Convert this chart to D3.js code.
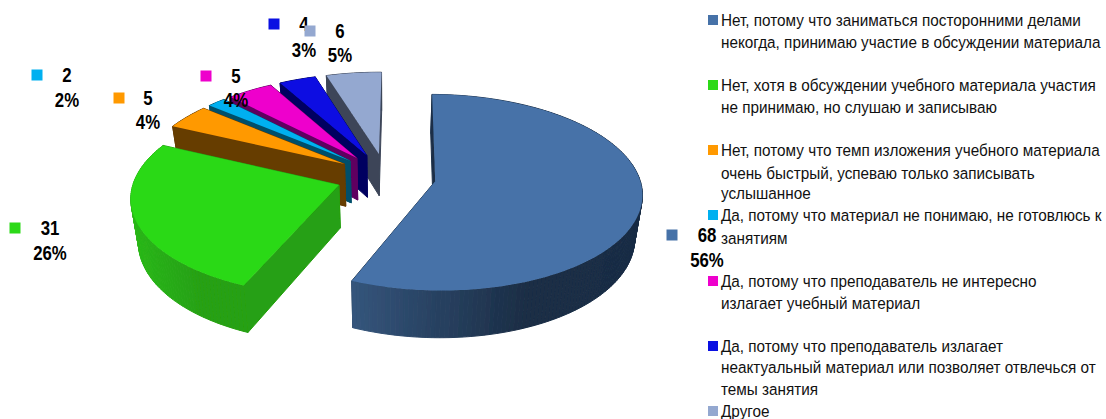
<!DOCTYPE html>
<html><head><meta charset="utf-8">
<script src="https://cdn.jsdelivr.net/npm/d3@7"></script>
<style>html,body{margin:0;padding:0;background:#fff;overflow:hidden}svg{display:block}</style>
</head><body><svg id="c" width="1106" height="419"></svg>
<script>
const categories = [
 ["Нет, потому что заниматься посторонними делами","некогда, принимаю участие в обсуждении материала"],
 ["Нет, хотя в обсуждении учебного материала участия","не принимаю, но слушаю и записываю"],
 ["Нет, потому что темп изложения учебного материала","очень быстрый, успеваю только записывать","услышанное"],
 ["Да, потому что материал не понимаю, не готовлюсь к","занятиям"],
 ["Да, потому что преподаватель не интересно","излагает учебный материал"],
 ["Да, потому что преподаватель излагает","неактуальный материал или позволяет отвлечься от","темы занятия"],
 ["Другое"]
];
const values = [68,31,5,2,5,4,6];
const colors = ["#4672a8","#2cd918","#ff9900","#00b0f0","#ee00cc","#0a10e2","#94a8d0"];
const wallColors = ["#1b2f47","#25a012","#663c00","#004f6b","#5e0060","#000060","#3c4558"];
const arcLight = ["#35557c","#2bb818","#663c00","#004f6b","#5e0060","#000060","#3c4558"];
const arcDark = ["#1a2d45","#25a012","#663c00","#004f6b","#5e0060","#000060","#3c4558"];
// layout
const legendLineY = [[20,42],[85,107],[150,173,193],[215,238],[281,303],[346,367,389],[411]];
const labelLayout = [[672,707,235,260],[15,50,228,253],[119,148,98,122],[37,67,75,100],[206,236,76,100],[274,304,24,50],[310,340,31,55]];

const svg = d3.select("#c");
const defs = svg.append("defs");
defs.append("filter").attr("id","soft").attr("x","-5%").attr("y","-5%").attr("width","110%").attr("height","110%")
  .append("feGaussianBlur").attr("stdDeviation",0.55);
const cx=386, cy=176.5, R=204, S=95.7, p=0.113, expl=0.245, startDeg=0.6;
const px = (u,v)=>[cx+R*u/(1+p*v), cy-S*v/(1+p*v)];
const low = ([x,y])=>[cx+(x-cx)*0.97, y+38+0.04*(y-60)];
const line = d3.line();
const total = d3.sum(values);
const fmt = d3.format(".0%");
const arcs = d3.pie().sort(null).startAngle(startDeg*Math.PI/180).endAngle((startDeg+360)*Math.PI/180)(values);

const order=[6,5,4,3,2,1,0];
const gPie=svg.append("g").attr("filter","url(#soft)");
order.forEach(i=>{
  const a=arcs[i], mid=(a.startAngle+a.endAngle)/2;
  const ox=expl*Math.sin(mid), oy=expl*Math.cos(mid);
  const n=Math.max(6,Math.round((a.endAngle-a.startAngle)*50));
  const rim=d3.range(n+1).map(k=>{
    const t=a.startAngle+(a.endAngle-a.startAngle)*k/n;
    return px(ox+Math.sin(t),oy+Math.cos(t));
  });
  const apex=px(ox,oy);
  const g=gPie.append("g");
  const walls=[];
  walls.push({pts:[apex,rim[0],low(rim[0]),low(apex)],fill:wallColors[i]});
  walls.push({pts:[apex,rim[n],low(rim[n]),low(apex)],fill:wallColors[i]});
  const xmin=d3.min(rim,d=>d[0]), xmax=d3.max(rim,d=>d[0]);
  const shade=d3.scaleLinear().domain([xmin,xmin+(xmax-xmin)*0.6]).range([arcLight[i],arcDark[i]]).clamp(true);
  for(let k=0;k<n;k++){
    walls.push({pts:[rim[k],rim[k+1],low(rim[k+1]),low(rim[k])],fill:shade((rim[k][0]+rim[k+1][0])/2)});
  }
  walls.sort((A,B)=>d3.mean(A.pts,d=>d[1])-d3.mean(B.pts,d=>d[1]));
  walls.forEach(w=>g.append("path").attr("d",line(w.pts)+"Z").attr("fill",w.fill).attr("stroke",w.fill).attr("stroke-width",1));
  g.append("path").attr("d",line([apex,...rim])+"Z").attr("fill",colors[i]);
});

const ff="'Liberation Sans',Arial,sans-serif";
// data labels (condensed via horizontal scale)
values.forEach((v,i)=>{
  const [sx,tx,y1,y2]=labelLayout[i];
  svg.append("rect").attr("x",sx-5.5).attr("y",y1-5.5).attr("width",11).attr("height",11).attr("fill",colors[i]);
  [[String(v),y1],[fmt(v/total),y2]].forEach(([s,y])=>{
    svg.append("text").attr("transform",`translate(${tx},${y+7}) scale(0.8,1)`).attr("text-anchor","middle")
      .attr("font-family",ff).attr("font-weight","bold").attr("font-size",21).attr("fill","#000").text(s);
  });
});
// legend
categories.forEach((lines,i)=>{
  svg.append("rect").attr("x",708).attr("y",legendLineY[i][0]-5).attr("width",10).attr("height",10).attr("fill",colors[i]);
  lines.forEach((s,j)=>{
    svg.append("text").attr("transform",`translate(721,${legendLineY[i][j]+5.5}) scale(0.9,1)`)
      .attr("font-family",ff).attr("font-size",17).attr("fill","#111").text(s);
  });
});
</script></body></html>
